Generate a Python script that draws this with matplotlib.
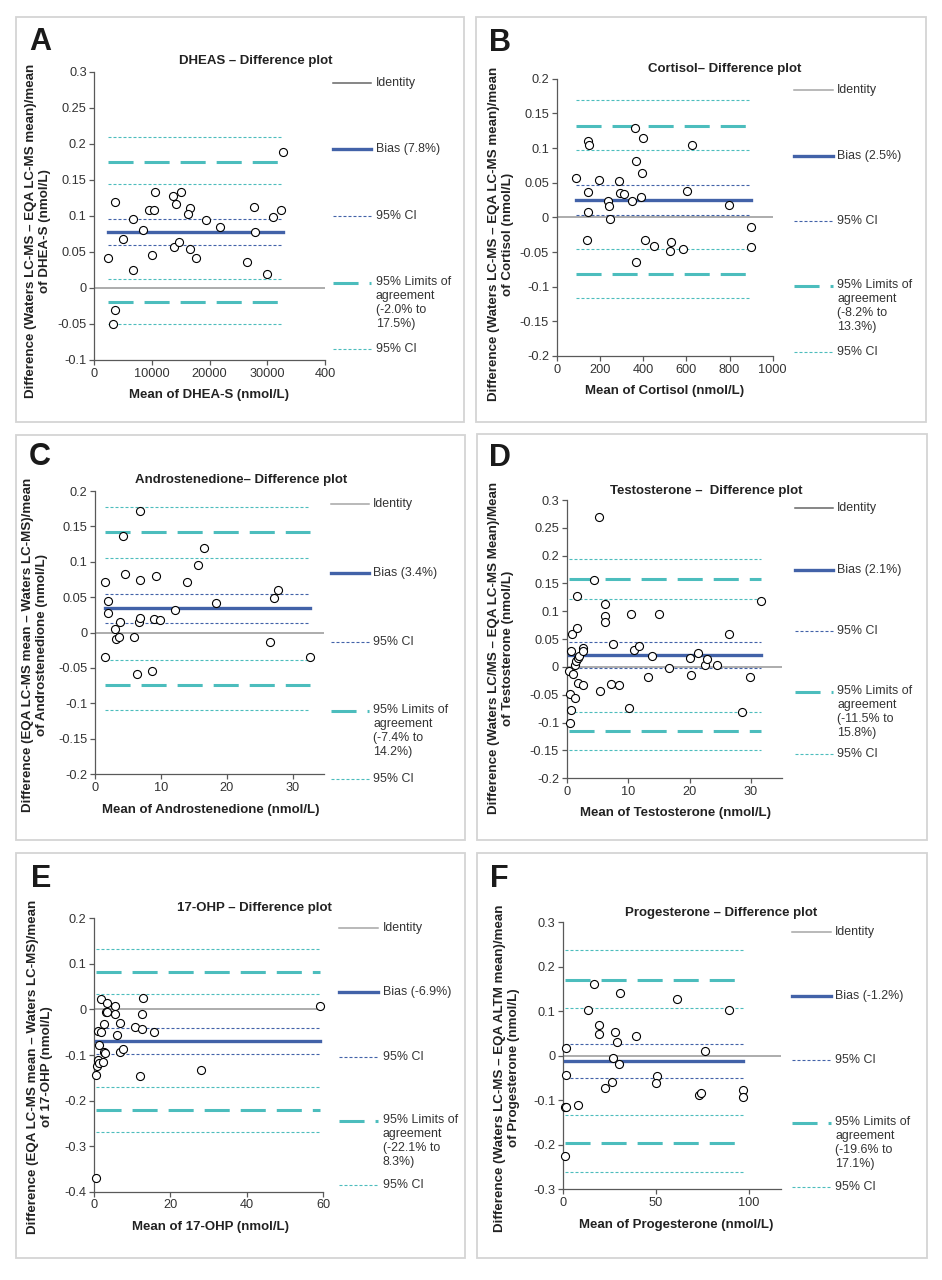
import numpy as np
import matplotlib
matplotlib.use("Agg")
from matplotlib import pyplot as plt
from matplotlib.lines import Line2D
from matplotlib.patches import Rectangle
from matplotlib.ticker import FuncFormatter

plt.rcParams['font.family'] = ['Liberation Sans', 'DejaVu Sans']

# A - DHEA-S
dheas_x = [2430, 3640, 3580, 3300, 4970, 6700, 6700, 8440, 9540, 10350, 10000, 10520, 13580, 14160, 14970,
           13760, 14740, 16650, 16240, 16590, 17630, 19360, 21790, 26420, 27750, 27920, 29880, 31040, 32430, 32780]
dheas_y = [0.041, 0.119, -0.030, -0.050, 0.068, 0.096, 0.025, 0.081, 0.108, 0.108, 0.045, 0.133, 0.127, 0.116, 0.133,
           0.057, 0.064, 0.111, 0.103, 0.054, 0.041, 0.094, 0.085, 0.036, 0.112, 0.078, 0.019, 0.098, 0.108, 0.189]
dheas_bias = 0.078
dheas_bias_ci = [0.060, 0.096]
dheas_loa = [-0.020, 0.175]
dheas_loa_ci = [-0.050, 0.013, 0.144, 0.209]

# B - Cortisol
cortisol_x = [90, 147, 151, 145, 145, 140, 196, 236, 242, 248, 289, 292, 310, 349, 364, 366, 366, 390, 395, 401,
              410, 452, 523, 529, 585, 605, 625, 799, 898, 898]
cortisol_y = [0.057, 0.110, 0.105, 0.037, 0.008, -0.032, 0.054, 0.024, 0.016, -0.003, 0.052, 0.035, 0.033, 0.024,
              0.129, 0.081, -0.065, 0.029, 0.064, 0.114, -0.033, -0.041, -0.048, -0.035, -0.045, 0.038, 0.105,
              0.018, -0.014, -0.043]
cortisol_bias = 0.025
cortisol_bias_ci = [0.004, 0.047]
cortisol_loa = [-0.082, 0.132]
cortisol_loa_ci = [-0.117, -0.046, 0.097, 0.169]

# C - Androstenedione
andro_x = [1.5, 2.0, 2.0, 1.5, 3.1, 3.2, 3.6, 3.8, 4.3, 4.5, 5.9, 6.3, 6.7, 6.9, 6.9, 6.9, 8.7, 9.0, 9.2, 9.9,
           12.2, 13.9, 15.6, 16.5, 18.3, 26.5, 27.1, 27.8, 32.6]
andro_y = [0.072, 0.044, 0.027, -0.035, 0.005, -0.009, -0.006, 0.015, 0.136, 0.083, -0.007, -0.059, 0.015, 0.021,
           0.074, 0.172, -0.054, 0.019, 0.080, 0.018, 0.032, 0.071, 0.096, 0.120, 0.041, -0.014, 0.049, 0.060, -0.034]
andro_bias = 0.034
andro_bias_ci = [0.013, 0.055]
andro_loa = [-0.074, 0.142]
andro_loa_ci = [-0.110, -0.039, 0.106, 0.178]

# D - Testosterone
testo_x = [0.4, 0.7, 0.5, 0.7, 0.5, 0.9, 1.1, 1.3, 1.4, 1.5, 1.7, 1.7, 1.8, 1.9, 2.0, 2.6, 2.6, 2.6, 4.4, 5.2,
           5.5, 6.2, 6.3, 6.3, 7.2, 7.6, 8.5, 10.2, 10.4, 10.9, 11.7, 13.3, 13.9, 15.1, 16.7, 20.1, 20.3, 21.3,
           22.5, 22.9, 24.5, 26.4, 28.5, 29.8, 31.7]
testo_y = [-0.007, 0.028, -0.048, -0.078, -0.101, 0.060, -0.012, -0.055, 0.003, 0.011, 0.070, 0.128, 0.017,
           -0.029, 0.019, 0.034, 0.028, -0.033, 0.157, 0.270, -0.043, 0.092, 0.113, 0.080, -0.030, 0.042, -0.032,
           -0.074, 0.095, 0.030, 0.038, -0.018, 0.020, 0.096, -0.002, 0.017, -0.014, 0.026, 0.004, 0.014, 0.003,
           0.060, -0.081, -0.018, 0.119]
testo_bias = 0.021
testo_bias_ci = [-0.001, 0.044]
testo_loa = [-0.115, 0.158]
testo_loa_ci = [-0.150, -0.080, 0.123, 0.194]

# E - 17-OHP
ohp_x = [0.5, 0.5, 0.7, 1.0, 1.2, 1.1, 1.4, 1.8, 1.9, 2.3, 2.5, 2.7, 2.9, 3.3, 3.1, 3.5, 5.6, 5.5, 5.9, 6.9,
         6.8, 7.7, 10.8, 12.1, 12.6, 12.6, 12.8, 15.6, 28.0, 59.2]
ohp_y = [-0.369, -0.143, -0.124, -0.110, -0.117, -0.047, -0.078, -0.050, 0.022, -0.116, -0.032, -0.094, -0.096,
         0.014, -0.005, -0.006, 0.007, -0.010, -0.056, -0.029, -0.093, -0.087, -0.038, -0.147, -0.043, -0.010,
         0.026, -0.050, -0.132, 0.008]
ohp_bias = -0.069
ohp_bias_ci = [-0.098, -0.040]
ohp_loa = [-0.221, 0.083]
ohp_loa_ci = [-0.270, -0.171, 0.033, 0.132]

# F - Progesterone
prog_x = [1.1, 0.9, 1.6, 1.6, 1.6, 8.1, 13.6, 16.5, 19.6, 19.6, 22.4, 26.2, 26.8, 27.8, 29.1, 30.3, 30.9, 39.1,
          50.5, 49.9, 61.2, 72.9, 74.3, 76.1, 89.1, 97.0, 97.0]
prog_y = [-0.226, -0.114, -0.114, 0.018, -0.043, -0.111, 0.103, 0.162, 0.070, 0.048, -0.073, -0.059, -0.004,
          0.053, 0.030, -0.019, 0.142, 0.045, -0.046, -0.061, 0.127, -0.088, -0.083, 0.011, 0.103, -0.076, -0.093]
prog_bias = -0.012
prog_bias_ci = [-0.049, 0.026]
prog_loa = [-0.196, 0.171]
prog_loa_ci = [-0.260, -0.132, 0.107, 0.237]

W, H = 942, 1280
bias_col = '#4262A8'
teal = '#4CBDBD'
ident_col = '#A6A6A6'
axis_col = '#595959'
txt_col = '#333333'


def fx(x):
    return x / W


def fy(y):
    return 1 - y / H


panels = [
    dict(letter='A', x=dheas_x, y=dheas_y, bias=dheas_bias, bias_ci=dheas_bias_ci, loa=dheas_loa, loa_ci=dheas_loa_ci,
         title='DHEAS \u2013 Difference plot', xlabel='Mean of DHEA-S (nmol/L)',
         ylabel='Difference (Waters LC-MS \u2013 EQA LC-MS mean)/mean\nof DHEA-S (nmol/L)',
         loa_txt='(-2.0% to\n17.5%)', box=(15.7, 17.3, 464, 421.7), axes=(94.3, 325, 71.7, 360),
         xlim=(0, 40000), xticks=[0, 10000, 20000, 30000, 40000], xticklabels=['0', '10000', '20000', '30000', '400'],
         ylim=(-0.1, 0.3), ystep=0.05, letter_pos=(29, 50), title_pos=(256, 61), xlab_pos=(209, 395),
         ylab_pos=(38, 231), leg_x=(333.3, 371, 376), leg_y=(83.3, 149.3, 216, 282.7, 349), ident_leg='#666666'),
    dict(letter='B', x=cortisol_x, y=cortisol_y, bias=cortisol_bias, bias_ci=cortisol_bias_ci, loa=cortisol_loa,
         loa_ci=cortisol_loa_ci, title='Cortisol\u2013 Difference plot', xlabel='Mean of Cortisol (nmol/L)',
         ylabel='Difference (Waters LC-MS \u2013 EQA LC-MS mean)/mean\nof Cortisol (nmol/L)',
         loa_txt='(-8.2% to\n13.3%)', box=(476, 17.3, 926, 421.7), axes=(556.7, 772.7, 78.7, 356),
         xlim=(0, 1000), xticks=[0, 200, 400, 600, 800, 1000], xticklabels=None,
         ylim=(-0.2, 0.2), ystep=0.05, letter_pos=(489, 51), title_pos=(725, 69), xlab_pos=(665, 391),
         ylab_pos=(501, 234), leg_x=(794, 832.7, 837.3), leg_y=(90, 155.7, 221, 286, 351.7), ident_leg=ident_col),
    dict(letter='C', x=andro_x, y=andro_y, bias=andro_bias, bias_ci=andro_bias_ci, loa=andro_loa, loa_ci=andro_loa_ci,
         title='Androstenedione\u2013 Difference plot', xlabel='Mean of Androstenedione (nmol/L)',
         ylabel='Difference (EQA LC-MS mean \u2013 Waters LC-MS)/mean\nof Androstenedione (nmol/L)',
         loa_txt='(-7.4% to\n14.2%)', box=(15.7, 435, 465, 840), axes=(95, 324.3, 491, 774),
         xlim=(0, 34.8), xticks=[0, 10, 20, 30], xticklabels=None,
         ylim=(-0.2, 0.2), ystep=0.05, letter_pos=(29, 465), title_pos=(241, 480), xlab_pos=(211, 810),
         ylab_pos=(35, 645), leg_x=(330.7, 369.3, 373.3), leg_y=(504.3, 572.7, 641.7, 711, 779.3),
         ident_leg=ident_col),
    dict(letter='D', x=testo_x, y=testo_y, bias=testo_bias, bias_ci=testo_bias_ci, loa=testo_loa, loa_ci=testo_loa_ci,
         title='Testosterone \u2013  Difference plot', xlabel='Mean of Testosterone (nmol/L)',
         ylabel='Difference (Waters LC/MS \u2013 EQA LC-MS Mean)/Mean\nof Testosterone (nmol/L)',
         loa_txt='(-11.5% to\n15.8%)', box=(477.3, 434.3, 926.7, 840), axes=(566.7, 781.7, 500, 778.3),
         xlim=(0, 35), xticks=[0, 10, 20, 30], xticklabels=None,
         ylim=(-0.2, 0.3), ystep=0.05, letter_pos=(489, 466), title_pos=(706, 491), xlab_pos=(675, 813),
         ylab_pos=(501, 648), leg_x=(795, 832.7, 837.3), leg_y=(508.3, 570, 631, 692.3, 754.3), ident_leg='#666666'),
    dict(letter='E', x=ohp_x, y=ohp_y, bias=ohp_bias, bias_ci=ohp_bias_ci, loa=ohp_loa, loa_ci=ohp_loa_ci,
         title='17-OHP \u2013 Difference plot', xlabel='Mean of 17-OHP (nmol/L)',
         ylabel='Difference (EQA LC-MS mean \u2013 Waters LC-MS)/mean\nof 17-OHP (nmol/L)',
         loa_txt='(-22.1% to\n8.3%)', box=(15.7, 853.3, 465, 1258.3), axes=(94, 323.3, 918.3, 1191.7),
         xlim=(0, 60), xticks=[0, 20, 40, 60], xticklabels=None,
         ylim=(-0.4, 0.2), ystep=0.1, letter_pos=(31, 887), title_pos=(254, 908), xlab_pos=(210, 1227),
         ylab_pos=(40, 1067), leg_x=(339.3, 378.3, 382.7), leg_y=(928.3, 992.3, 1056.7, 1120.7, 1185),
         ident_leg=ident_col),
    dict(letter='F', x=prog_x, y=prog_y, bias=prog_bias, bias_ci=prog_bias_ci, loa=prog_loa, loa_ci=prog_loa_ci,
         title='Progesterone \u2013 Difference plot', xlabel='Mean of Progesterone (nmol/L)',
         ylabel='Difference (Waters LC-MS \u2013 EQA ALTM mean)/mean\nof Progesterone (nmol/L)',
         loa_txt='(-19.6% to\n17.1%)', box=(477.3, 853.3, 926.7, 1258.3), axes=(563, 780.7, 922.3, 1189.3),
         xlim=(0, 117), xticks=[0, 50, 100], xticklabels=None,
         ylim=(-0.3, 0.3), ystep=0.1, letter_pos=(490, 887), title_pos=(721, 913), xlab_pos=(676, 1225),
         ylab_pos=(507, 1068), leg_x=(791.7, 830.7, 835), leg_y=(932.3, 996, 1060, 1123.3, 1187.3),
         ident_leg=ident_col),
]

fig = plt.figure(figsize=(9.42, 12.8), dpi=100)

loa_style = (0, (8.2, 3.6))
ci_style = (0, (2.7, 1.8))

for p in panels:
    # panel frame
    bx0, by0, bx1, by1 = p['box']
    fig.add_artist(Rectangle((fx(bx0), fy(by1)), (bx1 - bx0) / W, (by1 - by0) / H, transform=fig.transFigure,
                             fill=False, edgecolor='#D4D4D4', lw=1.3))

    l, r, t, b = p['axes']
    ax = fig.add_axes([fx(l), fy(b), (r - l) / W, (b - t) / H])
    x = np.array(p['x'])
    y = np.array(p['y'])
    x0, x1 = x.min(), x.max()

    ax.axhline(0, color=ident_col, lw=1.3, zorder=1)
    for v in p['loa_ci']:
        ax.plot([x0, x1], [v, v], color=teal, lw=0.8, linestyle=ci_style, zorder=2)
    for v in p['bias_ci']:
        ax.plot([x0, x1], [v, v], color=bias_col, lw=0.8, linestyle=ci_style, zorder=2)
    for v in p['loa']:
        ax.plot([x0, x1], [v, v], color=teal, lw=2.2, linestyle=loa_style, zorder=3)
    ax.plot([x0, x1], [p['bias'], p['bias']], color=bias_col, lw=2.4, zorder=3)
    ax.plot(x, y, 'o', mfc='white', mec='black', mew=0.8, ms=5.8, zorder=5, clip_on=False)

    ax.set_xlim(*p['xlim'])
    ax.set_ylim(*p['ylim'])
    ax.set_xticks(p['xticks'])
    if p['xticklabels']:
        ax.set_xticklabels(p['xticklabels'])
    ylo, yhi = p['ylim']
    ax.set_yticks(np.arange(ylo, yhi + p['ystep'] / 2, p['ystep']))
    ax.yaxis.set_major_formatter(FuncFormatter(lambda v, pos: f'{round(v, 3) + 0.0:g}'))
    for s in ['top', 'right']:
        ax.spines[s].set_visible(False)
    for s in ['left', 'bottom']:
        ax.spines[s].set_color(axis_col)
        ax.spines[s].set_linewidth(0.9)
    ax.tick_params(direction='out', length=3.5, width=0.9, color=axis_col, labelsize=9.2,
                   labelcolor=txt_col, pad=2)
    ax.set_facecolor('none')

    # texts
    fig.text(fx(p['letter_pos'][0]), fy(p['letter_pos'][1]), p['letter'], fontsize=22, fontweight='bold',
             va='baseline', ha='left', color='#1a1a1a')
    fig.text(fx(p['title_pos'][0]), fy(p['title_pos'][1]), p['title'], fontsize=9.5, fontweight='bold',
             ha='center', va='center', color='#222222')
    fig.text(fx(p['xlab_pos'][0]), fy(p['xlab_pos'][1]), p['xlabel'], fontsize=9.5, fontweight='bold',
             ha='center', va='center', color='#222222')
    fig.text(fx(p['ylab_pos'][0]), fy(p['ylab_pos'][1]), p['ylabel'], fontsize=9.6, fontweight='bold',
             ha='center', va='center', rotation=90, multialignment='center', linespacing=1.2, color='#222222')

    # legend
    lx0, lx1, ltx = p['leg_x']
    styles = [dict(color=p['ident_leg'], lw=1.1),
              dict(color=bias_col, lw=2.4),
              dict(color=bias_col, lw=0.8, linestyle=ci_style),
              dict(color=teal, lw=2.2, linestyle=loa_style),
              dict(color=teal, lw=0.8, linestyle=ci_style)]
    labels = ['Identity', f"Bias ({p['bias'] * 100:.1f}%)", '95% CI', None, '95% CI']
    for ly, st, lab in zip(p['leg_y'], styles, labels):
        fig.add_artist(Line2D([fx(lx0), fx(lx1)], [fy(ly), fy(ly)], transform=fig.transFigure, **st))
        if lab is None:
            fig.text(fx(ltx), fy(ly - 7), '95% Limits of\nagreement\n' + p['loa_txt'], fontsize=8.9,
                     ha='left', va='top', linespacing=1.22, color=txt_col)
        else:
            fig.text(fx(ltx), fy(ly), lab, fontsize=8.9, ha='left', va='center', color=txt_col)

fig.savefig('out.png', dpi=100, facecolor='white')
